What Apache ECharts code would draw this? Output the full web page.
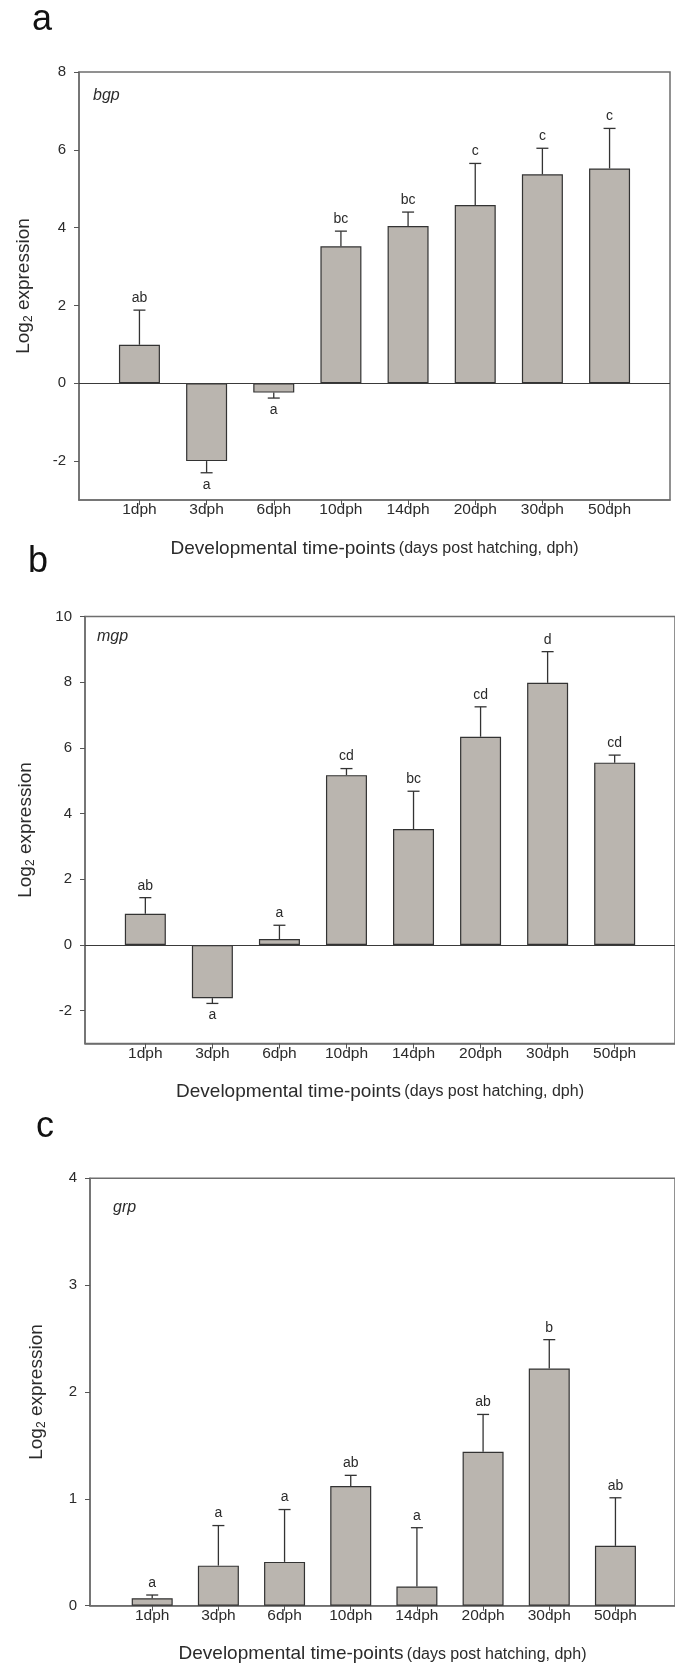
<!DOCTYPE html>
<html style="height:100%">
<head>
<meta charset="utf-8" />
<title>bgp / mgp / grp expression</title>
<script src="https://cdn.jsdelivr.net/npm/echarts@6/dist/echarts.min.js"></script>
<style>
  html, body { margin:0; padding:0; background:#fff; }
  #chartmain { width:675px; height:1669px; }
</style>
</head>
<body>
<div id="chartmain"></div>
<script type="text/javascript">

    var categories = ['1dph','3dph','6dph','10dph','14dph','20dph','30dph','50dph'];

    // a - bgp
    var bgpMean = [0.99, -2.00, -0.24, 3.52, 4.04, 4.58, 5.37, 5.52];
    var bgpErr  = [0.89, 0.30, 0.14, 0.39, 0.36, 1.07, 0.67, 1.03];
    var bgpSig  = ['ab','a','a','bc','bc','c','c','c'];
    var bgpTicks = [-2, 0, 2, 4, 6, 8];

    // b - mgp
    var mgpMean = [0.95, -1.62, 0.18, 5.17, 3.53, 6.34, 7.98, 5.55];
    var mgpErr  = [0.49, 0.16, 0.42, 0.20, 1.15, 0.91, 0.95, 0.23];
    var mgpSig  = ['ab','a','a','cd','bc','cd','d','cd'];
    var mgpTicks = [-2, 0, 2, 4, 6, 8, 10];

    // c - grp
    var grpMean = [0.07, 0.375, 0.41, 1.12, 0.18, 1.44, 2.22, 0.56];
    var grpErr  = [0.03, 0.375, 0.49, 0.10, 0.55, 0.35, 0.27, 0.45];
    var grpSig  = ['a','a','a','ab','a','ab','b','ab'];
    var grpTicks = [0, 1, 2, 3, 4];

    var FONT = 'Arial, "Liberation Sans", sans-serif';
    var INK = '#2b2b2b';
    var FRAME = '#6e6e6e';

    var panels = [
        {letter:'a', gene:'bgp', mean:bgpMean, err:bgpErr, sig:bgpSig, ticks:bgpTicks, yMin:-3, yMax:8,
         left:79, top:72, width:591, height:428, xMin:-0.9, xMax:7.9, zeroLine:true,
         letterPos:[32, 20], genePos:[93, 97], nameGap:44},
        {letter:'b', gene:'mgp', mean:mgpMean, err:mgpErr, sig:mgpSig, ticks:mgpTicks, yMin:-3, yMax:10,
         left:85, top:616.5, width:590, height:427, xMin:-0.9, xMax:7.9, zeroLine:true,
         letterPos:[28, 562], genePos:[97, 638], nameGap:48},
        {letter:'c', gene:'grp', mean:grpMean, err:grpErr, sig:grpSig, ticks:grpTicks, yMin:0, yMax:4,
         left:90, top:1178.3, width:594, height:427.4, xMin:-0.94, xMax:7.9, zeroLine:false,
         letterPos:[36, 1127], genePos:[113, 1209], nameGap:42}
    ];

    var grids = [], xAxes = [], yAxes = [], series = [], graphics = [];

    panels.forEach(function(p, k){
        grids.push({
            left:p.left, top:p.top, width:p.width, height:p.height,
            show:true, borderColor:FRAME, borderWidth:1.5, backgroundColor:'transparent'
        });
        xAxes.push({
            type:'value', gridIndex:k, min:p.xMin, max:p.xMax,
            splitLine:{show:false},
            axisLine:{show:true, onZero:false, lineStyle:{color:FRAME, width:1.5}},
            axisTick:{show:true, inside:false, length:5, customValues:[0,1,2,3,4,5,6,7], lineStyle:{color:'#555'}},
            axisLabel:{show:true, margin:2, fontSize:15.5, fontFamily:FONT, color:INK,
                customValues:[0,1,2,3,4,5,6,7],
                formatter:function(v){ return categories[Math.round(v)]; }},
            name:'{m|Developmental time-points} {s|(days post hatching, dph)}',
            nameLocation:'middle', nameGap:39,
            nameTextStyle:{rich:{
                m:{fontSize:19, fontFamily:FONT, color:INK},
                s:{fontSize:16, fontFamily:FONT, color:INK}
            }}
        });
        yAxes.push({
            type:'value', gridIndex:k, min:p.yMin, max:p.yMax,
            splitLine:{show:false},
            axisLine:{show:true, onZero:false, lineStyle:{color:FRAME, width:1.5}},
            axisTick:{show:true, inside:false, length:5, customValues:p.ticks, lineStyle:{color:'#555'}},
            axisLabel:{show:true, margin:13, fontSize:15, fontFamily:FONT, color:INK, customValues:p.ticks},
            name:'{m|Log}{sub|2}{m| expression}',
            nameLocation:'middle', nameGap:p.nameGap,
            nameTextStyle:{rich:{
                m:{fontSize:19, fontFamily:FONT, color:INK, lineHeight:22},
                sub:{fontSize:12, fontFamily:FONT, color:INK, lineHeight:22, verticalAlign:'bottom'}
            }}
        });

        var barData = p.mean.map(function(v, i){ return [i, v]; });
        var bar = {
            type:'bar', xAxisIndex:k, yAxisIndex:k, data:barData, barWidth:41,
            itemStyle:{color:'#bab5af', borderColor:'#333', borderWidth:1.2},
            silent:true, z:2
        };
        if (p.zeroLine) {
            bar.markLine = {
                silent:true, symbol:'none', label:{show:false}, animation:false,
                lineStyle:{color:'#3a3a3a', width:1.2, type:'solid'},
                data:[{yAxis:0}]
            };
        }
        series.push(bar);

        var errData = p.mean.map(function(v, i){ return [i, v, p.err[i]]; });
        series.push({
            type:'custom', xAxisIndex:k, yAxisIndex:k, data:errData, silent:true, z:3,
            renderItem:function(params, api){
                var x = api.value(0), v = api.value(1), e = api.value(2);
                var base = api.coord([x, v]);
                var tip = api.coord([x, v >= 0 ? v + e : v - e]);
                var dir = v >= 0 ? -1 : 1;
                var st = {stroke:'#333', lineWidth:1.3};
                return {type:'group', children:[
                    {type:'line', shape:{x1:base[0], y1:base[1], x2:tip[0], y2:tip[1]}, style:st},
                    {type:'line', shape:{x1:tip[0]-6, y1:tip[1], x2:tip[0]+6, y2:tip[1]}, style:st},
                    {type:'text', x:tip[0], y:tip[1] + dir*12,
                     style:{text:p.sig[params.dataIndex], align:'center', verticalAlign:'middle',
                            font:'14px ' + FONT, fill:INK}}
                ]};
            }
        });

        graphics.push({type:'text', left:p.letterPos[0], top:p.letterPos[1] - 18,
            style:{text:p.letter, font:'36px ' + FONT, fill:'#111'}});
        graphics.push({type:'text', left:p.genePos[0], top:p.genePos[1] - 9,
            style:{text:p.gene, font:'italic 16px ' + FONT, fill:INK}});
    });

    var myChart = echarts.init(document.getElementById('chartmain'), null, {renderer:'canvas'});
    myChart.setOption({
        backgroundColor:'#ffffff',
        animation:false,
        grid:grids,
        xAxis:xAxes,
        yAxis:yAxes,
        series:series,
        graphic:graphics
    });
</script>
</body>
</html>
